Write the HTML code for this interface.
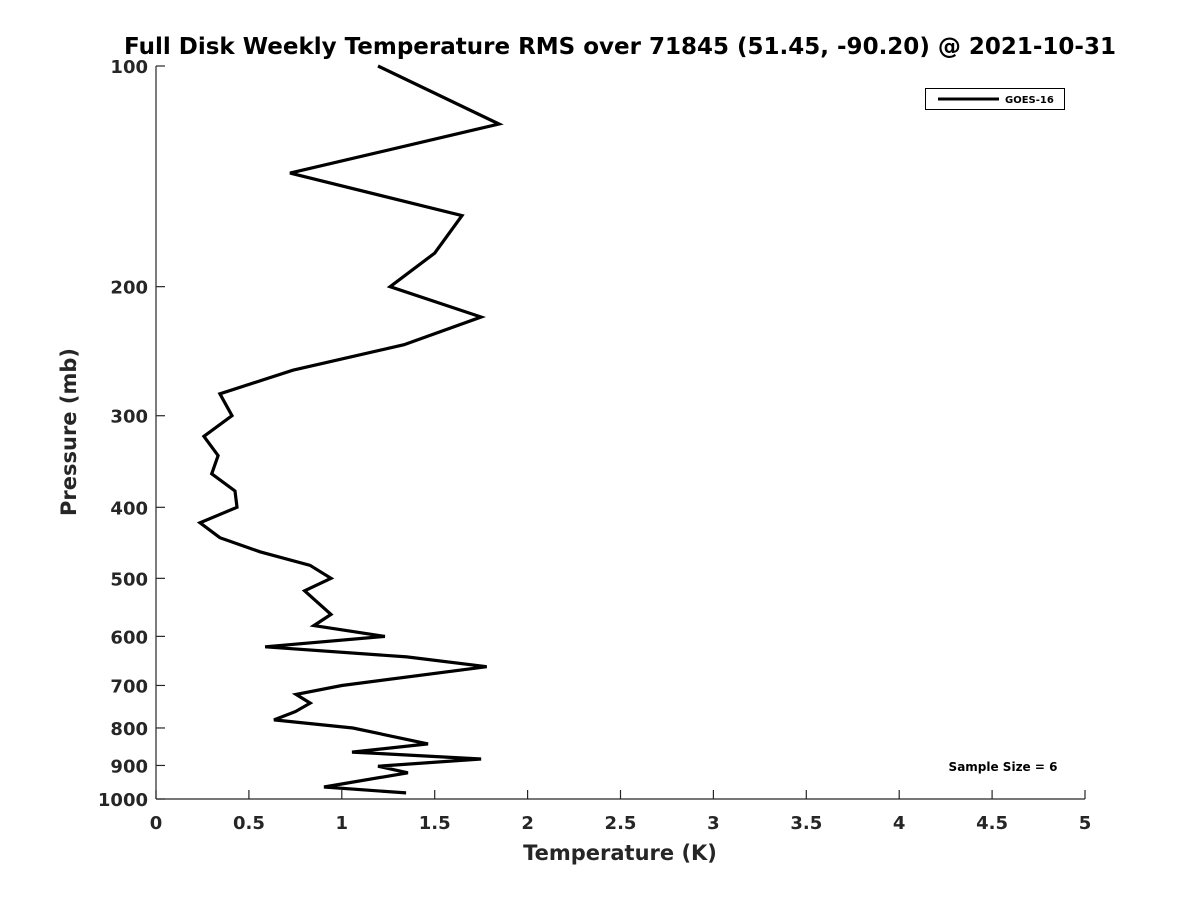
<!DOCTYPE html>
<html><head><meta charset="utf-8"><style>
body{margin:0;background:#fff;}
svg text{font-family:"DejaVu Sans","Liberation Sans",sans-serif;font-weight:bold;fill:#262626;}
</style></head><body>
<svg id="chart" width="1200" height="900" xmlns="http://www.w3.org/2000/svg">
<rect width="1200" height="900" fill="#fff"/>
<text x="620" y="54" text-anchor="middle" font-size="23" style="fill:#000">Full Disk Weekly Temperature RMS over 71845 (51.45, -90.20) @ 2021-10-31</text>
<g id="axes"></g>
<path id="series" fill="none" stroke="#000" stroke-width="3.2" stroke-linejoin="miter"/>
<g>
<rect x="925.5" y="88.5" width="139" height="21" fill="#fff" stroke="#000" stroke-width="1"/>
<line x1="938" y1="99" x2="999" y2="99" stroke="#000" stroke-width="3"/>
<text x="1005" y="103" font-size="10" style="fill:#000">GOES-16</text>
</g>
<text x="1003" y="771" text-anchor="middle" font-size="12" style="fill:#000">Sample Size = 6</text>
<text x="620" y="860" text-anchor="middle" font-size="21">Temperature (K)</text>
<text transform="translate(76,432) rotate(-90)" text-anchor="middle" font-size="21">Pressure (mb)</text>
</svg>
<script>
const temps=[1.195,1.846,0.721,1.647,1.50,1.26,1.75,1.335,0.737,0.344,0.409,0.258,0.334,0.30,0.425,0.436,0.237,0.344,0.56,0.829,0.942,0.80,0.942,0.85,1.232,0.587,1.35,1.78,1.0,0.754,0.83,0.75,0.635,1.06,1.464,1.055,1.75,1.195,1.356,0.904,1.346];
const pressures=[100,120,140,160,180,200,220,240,260,280,300,320,340,360,380,400,420,440,460,480,500,520,560,580,600,620,640,660,700,720,740,760,780,800,841,863,882,902,921,963,981];
const xTicks=[0,0.5,1,1.5,2,2.5,3,3.5,4,4.5,5];
const xTickLabels=["0","0.5","1","1.5","2","2.5","3","3.5","4","4.5","5"];
const yTicks=[100,200,300,400,500,600,700,800,900,1000];
const yTickLabels=["100","200","300","400","500","600","700","800","900","1000"];
const X0=156,X1=1085,Y0=66,Y1=799;
function xs(v){return X0+(v-0)/(5-0)*(X1-X0);}
function ys(p){return Y0+(Math.log10(p)-2)/(3-2)*(Y1-Y0);}
const NS="http://www.w3.org/2000/svg";
const ax=document.getElementById('axes');
function mk(t,a){const e=document.createElementNS(NS,t);for(const k in a)e.setAttribute(k,a[k]);ax.appendChild(e);return e;}
let l=mk('line',{x1:X0,y1:Y0,x2:X0,y2:Y1,stroke:'#262626','stroke-width':1.2});


l=mk('line',{x1:X0,y1:Y1,x2:X1,y2:Y1,stroke:'#262626','stroke-width':1.2});


xTicks.forEach((v,i)=>{const x=xs(v);
 const t=mk('line',{x1:x,y1:Y1,x2:x,y2:Y1-9,stroke:'#262626','stroke-width':1.2});
 
 
 const tx=mk('text',{x:x,y:Y1+30,'text-anchor':'middle','font-size':18});tx.textContent=xTickLabels[i];
 
 
});
yTicks.forEach((v,i)=>{const y=ys(v);
 const t=mk('line',{x1:X0,y1:y,x2:X0+9,y2:y,stroke:'#262626','stroke-width':1.2});
 
 
 const tx=mk('text',{x:X0-8,y:y+7,'text-anchor':'end','font-size':18});tx.textContent=yTickLabels[i];
 
 
});
document.getElementById('series').setAttribute('d',temps.map((t,i)=>(i?'L':'M')+xs(t).toFixed(1)+','+ys(pressures[i]).toFixed(1)).join(' '));
</script>
</body></html>
